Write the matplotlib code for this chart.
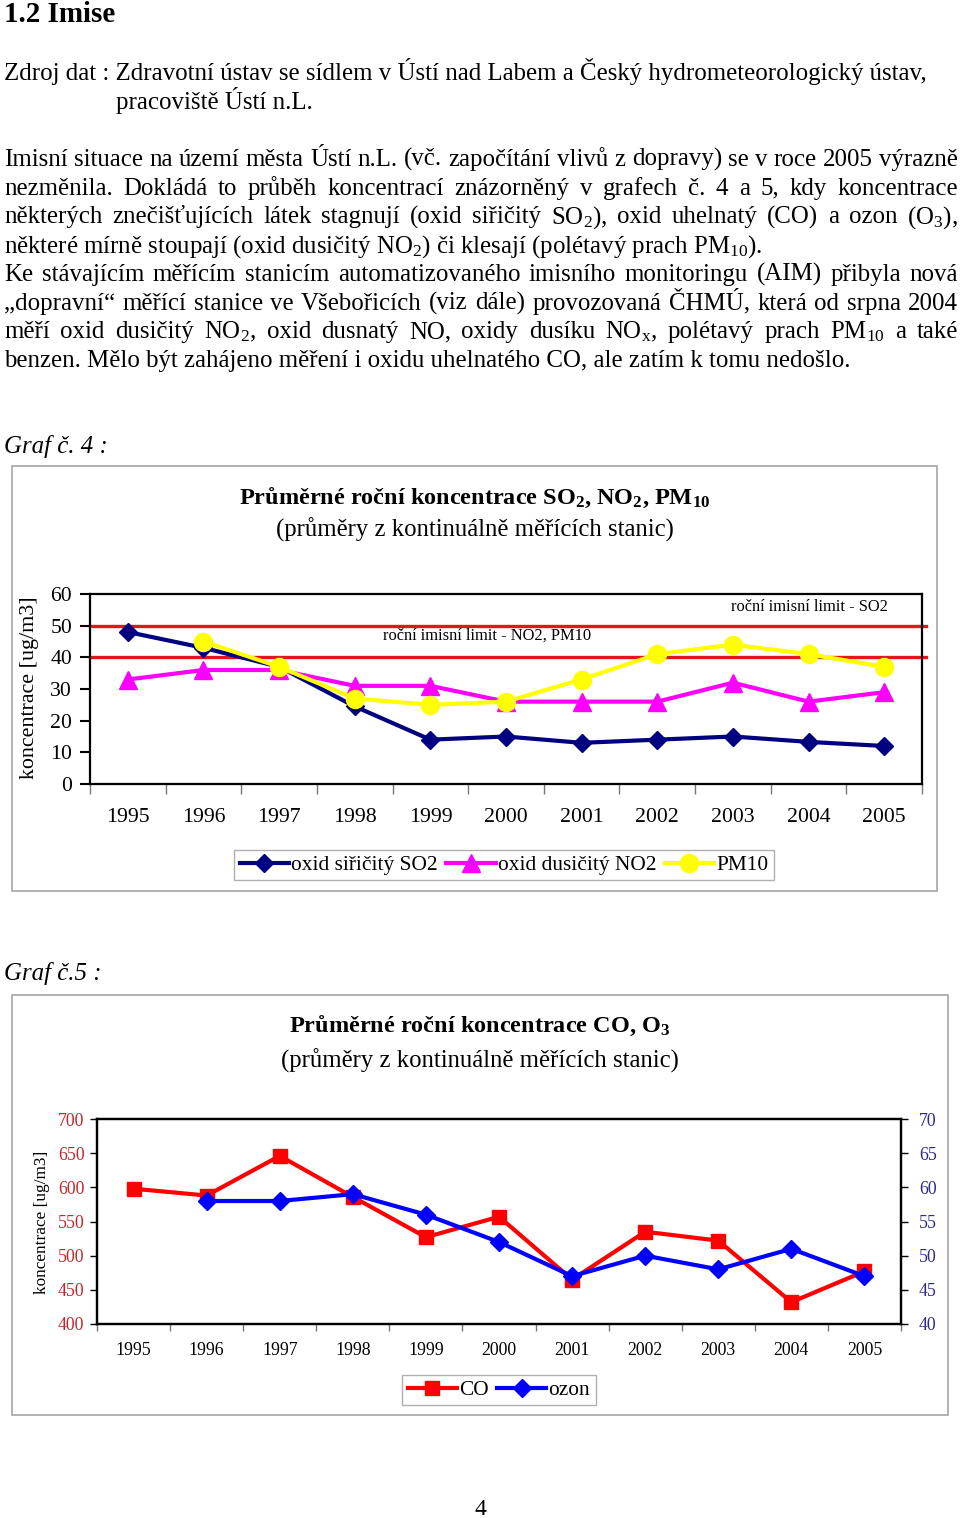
import numpy as np
import matplotlib
matplotlib.use("Agg")
import matplotlib.pyplot as plt
from matplotlib.patches import Rectangle

plt.rcParams['font.family'] = ['Liberation Serif', 'DejaVu Serif']
plt.rcParams['mathtext.fontset'] = 'custom'
plt.rcParams['mathtext.rm'] = 'Liberation Serif'
plt.rcParams['mathtext.it'] = 'Liberation Serif:italic'
plt.rcParams['mathtext.bf'] = 'Liberation Serif:bold'

# Data
roky = ['1995', '1996', '1997', '1998', '1999', '2000', '2001', '2002', '2003', '2004', '2005']
so2 = [48, 43, 37, 24.5, 14, 15, 13, 14, 15, 13.3, 12]
no2 = [33, 36, 36, 31, 31, 26, 26, 26, 32, 26, 29]
pm10 = [np.nan, 45, 37, 27, 25, 26, 33, 41, 44, 41, 37]
limit_so2 = 50
limit_no2 = 40

co = [598, 588, 646, 586, 527, 557, 465, 535, 522, 432, 477]
ozon = [np.nan, 58, 58, 59, 56, 52, 47, 50, 48, 51, 47]

W, H = 960, 1518
fig = plt.figure(figsize=(W / 100, H / 100), dpi=100)
fig.patch.set_facecolor('white')

FS = 17.9  # zakladni velikost pisma textu


def fx(x):
    return x / W


def fy(y):
    return 1 - y / H


def txt(x, y, s, **kw):
    kw.setdefault('fontsize', FS)
    kw.setdefault('va', 'baseline')
    return fig.text(fx(x), fy(y), s, **kw)


renderer = fig.canvas.get_renderer()


def justify(line, y, x0=4, x1=958, size=FS):
    # zarovnani do bloku - slova rozmistena po cele sirce
    words = line.split(' ')
    texts = [txt(0, y, w, fontsize=size) for w in words]
    widths = [t.get_window_extent(renderer).width for t in texts]
    gap = (x1 - x0 - sum(widths)) / (len(words) - 1)
    x = x0
    for t, w in zip(texts, widths):
        t.set_x(fx(x))
        x += w + gap


# Text stranky
txt(4, 22, '1.2 Imise', fontsize=20.9, fontweight='bold')
txt(4, 80, 'Zdroj dat : Zdravotní ústav se sídlem v Ústí nad Labem a Český hydrometeorologický ústav,')
txt(116, 109, 'pracoviště Ústí n.L.')

odstavec1 = [
    'Imisní situace na území města Ústí n.L. (vč. započítání vlivů z dopravy) se v roce 2005 výrazně',
    'nezměnila. Dokládá to průběh koncentrací znázorněný v grafech č. 4 a 5, kdy koncentrace',
    'některých znečišťujících látek stagnují (oxid siřičitý SO$_2$), oxid uhelnatý (CO) a ozon (O$_3$),',
]
for i, line in enumerate(odstavec1):
    justify(line, 166 + i * 28.7)
txt(4, 166 + 3 * 28.7, 'některé mírně stoupají (oxid dusičitý NO$_2$) či klesají (polétavý prach PM$_{10}$).')

odstavec2 = [
    'Ke stávajícím měřícím stanicím automatizovaného imisního monitoringu (AIM) přibyla nová',
    '„dopravní“ měřící stanice ve Všebořicích (viz dále) provozovaná ČHMÚ, která od srpna 2004',
    'měří oxid dusičitý NO$_2$, oxid dusnatý NO, oxidy dusíku NO$_\\mathrm{x}$, polétavý prach PM$_{10}$ a také',
]
for i, line in enumerate(odstavec2):
    justify(line, 281 + i * 28.7)
txt(4, 281 + 3 * 28.7, 'benzen. Mělo být zahájeno měření i oxidu uhelnatého CO, ale zatím k tomu nedošlo.')

txt(4, 453, 'Graf č. 4 :', fontstyle='italic')
txt(4, 980, 'Graf č.5 :', fontstyle='italic')
txt(480, 1515, '4', ha='center', fontsize=17)

# Ramecky grafu
for (x0, y0, x1, y1) in [(12, 466, 937, 891), (12, 995, 948, 1415)]:
    fig.add_artist(Rectangle((fx(x0), fy(y1)), (x1 - x0) / W, (y1 - y0) / H,
                             transform=fig.transFigure, fill=False,
                             edgecolor='#a6a6a6', lw=1.2))

# ---------------- Graf 4 ----------------
txt(475, 504, 'Průměrné roční koncentrace SO$_\\mathbf{2}$, NO$_\\mathbf{2}$, PM$_\\mathbf{10}$',
    ha='center', fontsize=17.5, fontweight='bold')
txt(475, 537, '(průměry z kontinuálně měřících stanic)', ha='center', fontsize=17.8)

left, right, top, bottom = 90, 922, 594, 784
ax1 = fig.add_axes([fx(left), fy(bottom), (right - left) / W, (bottom - top) / H])
x = np.arange(len(roky))
ax1.axhline(limit_so2, xmin=0, xmax=1.005, color='#e3161b', lw=2.4, clip_on=False, zorder=2)
ax1.axhline(limit_no2, xmin=0, xmax=1.005, color='#e3161b', lw=2.4, clip_on=False, zorder=2)
l1, = ax1.plot(x, so2, color='#000080', lw=3, marker='D', markersize=9, zorder=3,
               label='oxid siřičitý SO2')
l2, = ax1.plot(x, no2, color='#ff00ff', lw=3, marker='^', markersize=13, zorder=4,
               label='oxid dusičitý NO2')
l3, = ax1.plot(x, pm10, color='#ffff00', lw=3, marker='o', markersize=13, zorder=5,
               label='PM10')
ax1.text(10.05, 56, 'roční imisní limit - SO2', ha='right', va='center', fontsize=11.9)
ax1.text(4.75, 47, 'roční imisní limit - NO2, PM10', ha='center', va='center', fontsize=11.9)
ax1.set_xlim(-0.5, 10.5)
ax1.set_ylim(0, 60)
ax1.set_yticks(range(0, 61, 10))
ax1.set_xticks(np.arange(-0.5, 11, 1))
ax1.set_xticklabels([])
ax1.set_xticks(x, minor=True)
ax1.set_xticklabels(roky, minor=True)
ax1.tick_params(axis='x', which='major', length=7, width=1, color='#777777')
ax1.tick_params(axis='x', which='minor', length=0, pad=17, labelsize=15.7)
ax1.tick_params(axis='y', length=7, width=1.5, pad=6, labelsize=15.7)
for s in ax1.spines.values():
    s.set_linewidth(1.6)
fig.text(fx(30), fy(688), 'koncentrace [ug/m3]', rotation=90, ha='center', va='center', fontsize=15.8)
fig.legend(handles=[l1, l2, l3], loc='center', bbox_to_anchor=(fx(504), fy(865)),
           bbox_transform=fig.transFigure, ncol=3, fontsize=15.4, frameon=True,
           fancybox=False, edgecolor='#b0b0b0', handlelength=2.3, handletextpad=0.1,
           columnspacing=0.4, borderpad=0.25, framealpha=1)

# ---------------- Graf 5 ----------------
txt(480, 1032, 'Průměrné roční koncentrace CO, O$_\\mathbf{3}$', ha='center', fontsize=17.5,
    fontweight='bold')
txt(480, 1068, '(průměry z kontinuálně měřících stanic)', ha='center', fontsize=17.8)

left, right, top, bottom = 97, 901, 1119, 1324
ax2 = fig.add_axes([fx(left), fy(bottom), (right - left) / W, (bottom - top) / H])
m1, = ax2.plot(x, co, color='#ff0000', lw=3, marker='s', markersize=9.5, label='CO')
ax2.set_xlim(-0.5, 10.5)
ax2.set_ylim(400, 700)
ax2.set_yticks(range(400, 701, 50))
ax2.set_xticks(np.arange(-0.5, 11, 1))
ax2.set_xticklabels([])
ax2.set_xticks(x, minor=True)
ax2.set_xticklabels(roky, minor=True)
ax2.tick_params(axis='x', which='major', length=5, width=1, color='#777777')
ax2.tick_params(axis='x', which='minor', length=0, pad=13, labelsize=12.8)
ax2.tick_params(axis='y', length=5, width=1, pad=4, labelsize=12.8, labelcolor='#c0282d')
for s in ax2.spines.values():
    s.set_linewidth(1.6)

ax3 = ax2.twinx()
m2, = ax3.plot(x, ozon, color='#0000ff', lw=3, marker='D', markersize=9.5, label='ozon')
ax3.set_ylim(40, 70)
ax3.set_yticks(range(40, 71, 5))
ax3.tick_params(axis='y', length=5, width=1, pad=8, labelsize=12.8, labelcolor='#2a2a8f')
for s in ax3.spines.values():
    s.set_linewidth(1.6)
fig.text(fx(42), fy(1222), 'koncentrace [ug/m3]', rotation=90, ha='center', va='center', fontsize=12.4)
fig.legend(handles=[m1, m2], loc='center', bbox_to_anchor=(fx(499), fy(1390)),
           bbox_transform=fig.transFigure, ncol=2, fontsize=15.4, frameon=True,
           fancybox=False, edgecolor='#b0b0b0', handlelength=2.3, handletextpad=0.1,
           columnspacing=0.4, borderpad=0.25, framealpha=1)

fig.savefig('out.png', dpi=100)
